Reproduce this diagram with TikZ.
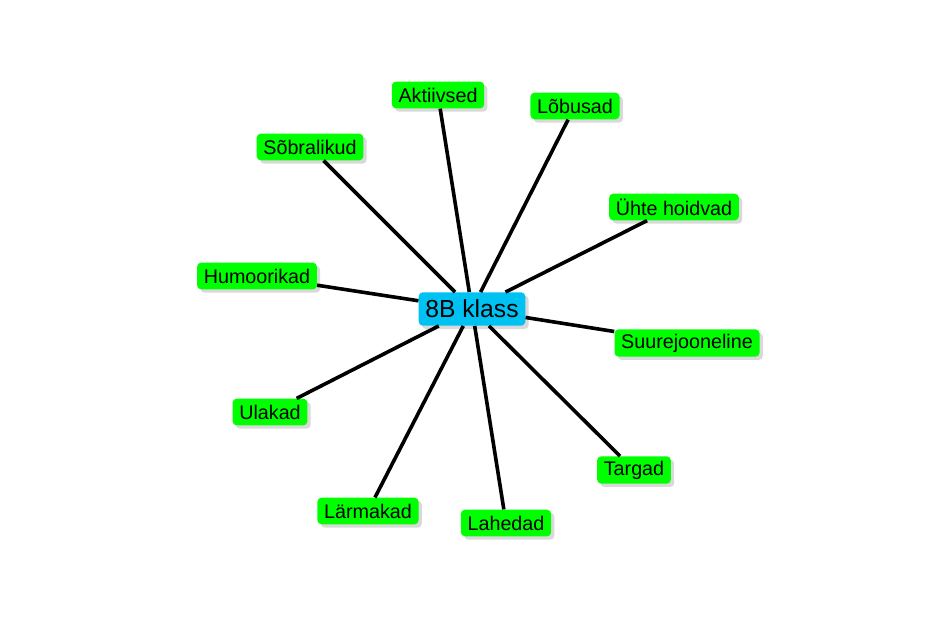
\documentclass[tikz,border=0pt]{standalone}
\usepackage{fontspec}
\setmainfont{Liberation Sans}
\usepackage{xcolor}
\usepackage{tikz}
\usetikzlibrary{positioning, shadows}

\definecolor{leafgreen}{RGB}{0,255,0}
\definecolor{rootblue}{RGB}{0,194,242}

\begin{document}
\begin{tikzpicture}[
    x=0.75pt, y=-0.75pt,
    every node/.style={rounded corners=3pt, inner xsep=5pt, minimum height=20pt, align=center,
        drop shadow={shadow xshift=2.5pt, shadow yshift=-2.5pt, fill=black!25, opacity=0.6}},
    leaf/.style={fill=leafgreen, font=\fontsize{14.8}{16}\selectfont},
    root/.style={fill=rootblue, font=\fontsize{18.5}{20}\selectfont, minimum height=25pt, inner xsep=5pt},
    spoke/.style={draw, line width=2.7pt}
]
\useasboundingbox (0,0) rectangle (945,620);

\node[root] (klass) at (472,309) {8B klass};

\node[leaf] (aktiivsed) at (438,95) {Aktiivsed};
\node[leaf] (lobusad) at (575,106) {Lõbusad};
\node[leaf] (sobralikud) at (310,147) {Sõbralikud};
\node[leaf] (uhte) at (674,207) {Ühte hoidvad};
\node[leaf] (humoorikad) at (257,276) {Humoorikad};
\node[leaf] (suurejooneline) at (687,343) {Suurejooneline};
\node[leaf] (ulakad) at (270,412) {Ulakad};
\node[leaf] (targad) at (634,470) {Targad};
\node[leaf] (larmakad) at (368,511) {Lärmakad};
\node[leaf] (lahedad) at (506,523) {Lahedad};

% spokes from the class node
\foreach \leafname in {aktiivsed, lobusad, sobralikud, uhte, humoorikad,
    suurejooneline, ulakad, targad, larmakad, lahedad}
    \draw[spoke] (klass) -- (\leafname);
\end{tikzpicture}
\end{document}
